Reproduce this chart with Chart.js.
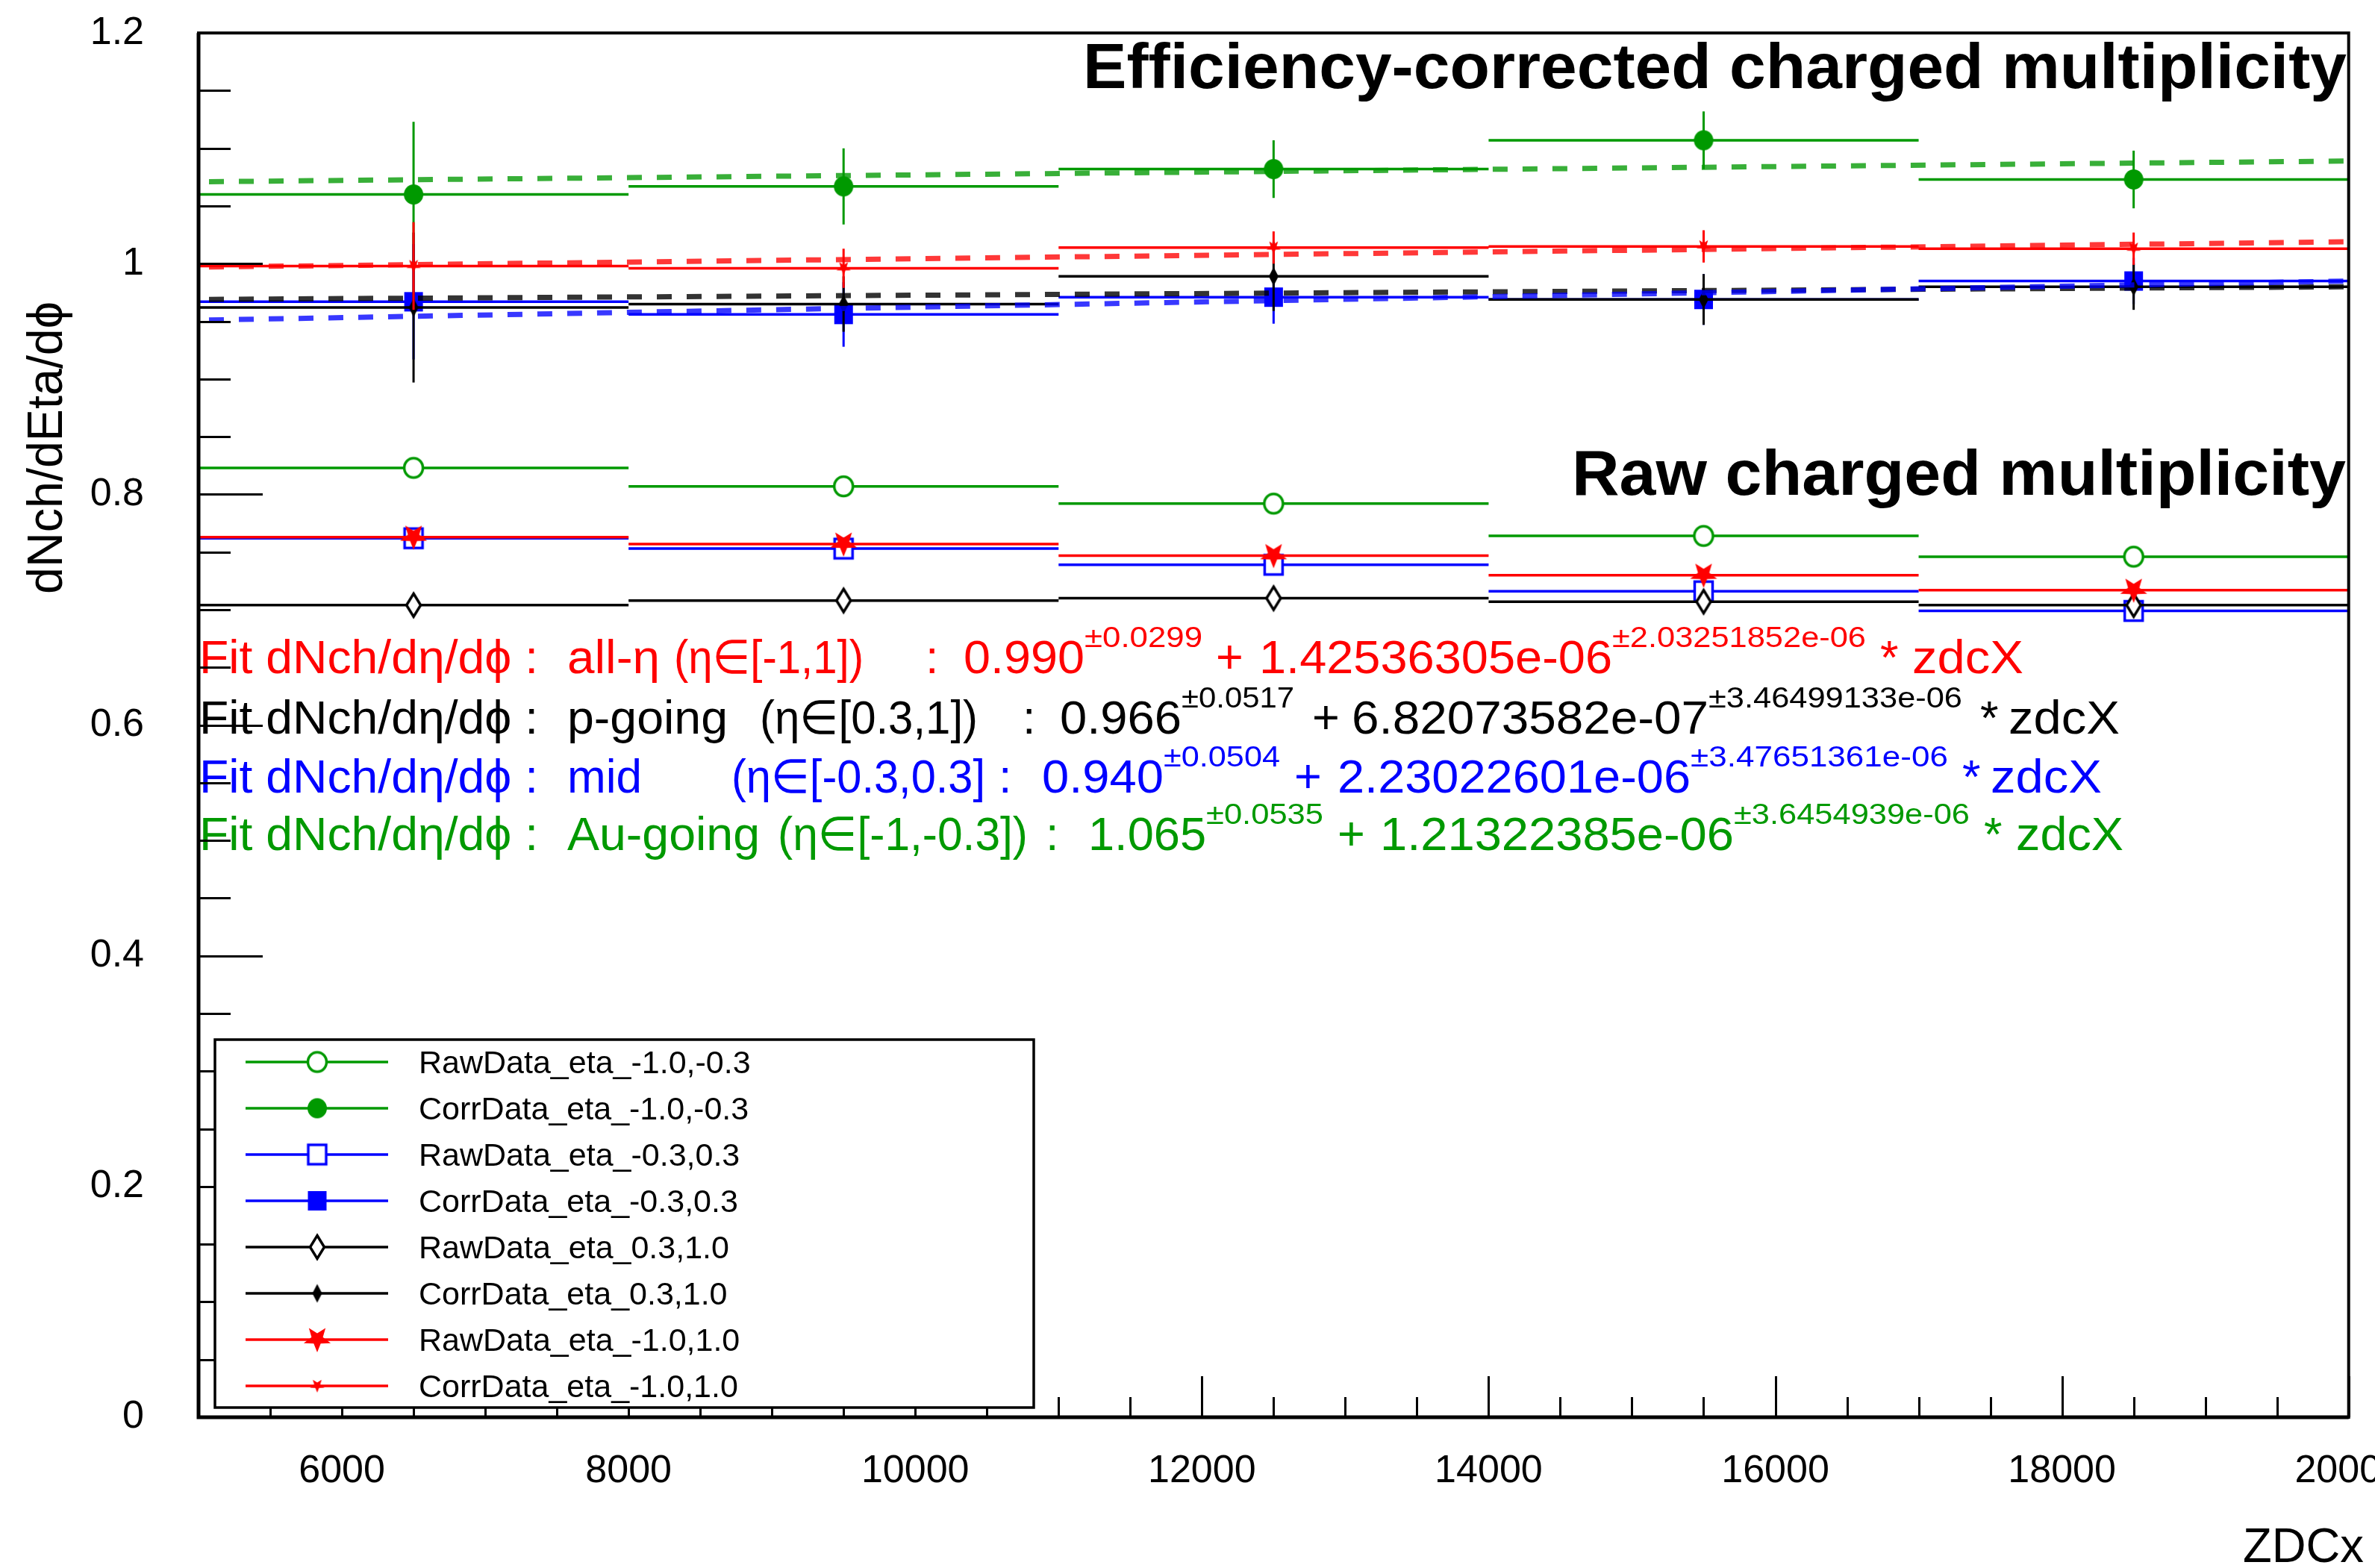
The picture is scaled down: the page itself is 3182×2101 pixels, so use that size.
<!DOCTYPE html>
<html><head><meta charset="utf-8">
<script src="https://cdn.jsdelivr.net/npm/chart.js@4.4.0/dist/chart.umd.min.js"></script>
<style>
html,body{margin:0;padding:0;background:#fff;overflow:hidden;width:3182px;height:2101px;}
#wrap{position:absolute;left:0;top:-60px;width:3260px;height:2161px;}
canvas{display:block;}
</style></head><body>
<div id="wrap"><canvas id="c" width="3260" height="2161" style="width:3260px;height:2161px"></canvas></div>
<script>
// ================= DATA =================
const binEdges   = [5000, 8000, 11000, 14000, 17000, 20000];
const binCenters = [6500, 9500, 12500, 15500, 18500];

const rawGreen = [0.823, 0.807, 0.792, 0.764, 0.746];
const rawBlue  = [0.762, 0.753, 0.739, 0.716, 0.699];
const rawBlack = [0.704, 0.708, 0.710, 0.707, 0.704];
const rawRed   = [0.763, 0.757, 0.747, 0.730, 0.717];

const corrGreen    = [1.060, 1.067, 1.082, 1.107, 1.073];
const corrGreenErr = [0.063, 0.033, 0.025, 0.025, 0.025];
const corrBlue     = [0.967, 0.956, 0.971, 0.969, 0.985];
const corrBlueErr  = [0.050, 0.028, 0.023, 0.022, 0.020];
const corrBlack    = [0.962, 0.965, 0.989, 0.969, 0.980];
const corrBlackErr = [0.065, 0.024, 0.030, 0.022, 0.020];
const corrRed      = [0.998, 0.996, 1.014, 1.015, 1.013];
const corrRedErr   = [0.038, 0.017, 0.014, 0.014, 0.014];

// fit lines: value at left (x=5000) and right (x=20000) edge
const fitX     = [5000, 20000];
const fitRed   = [0.997, 1.019];
const fitBlack = [0.969, 0.980];
const fitBlue  = [0.951, 0.985];
const fitGreen = [1.071, 1.089];

const seriesNames = ["RawData_eta_-1.0,-0.3","CorrData_eta_-1.0,-0.3","RawData_eta_-0.3,0.3","CorrData_eta_-0.3,0.3",
                     "RawData_eta_0.3,1.0","CorrData_eta_0.3,1.0","RawData_eta_-1.0,1.0","CorrData_eta_-1.0,1.0"];

const xTickValues = [6000, 8000, 10000, 12000, 14000, 16000, 18000, 20000];
const xTickLabels = ["6000","8000","10000","12000","14000","16000","18000","20000"];
const yTickValues = [0, 0.2, 0.4, 0.6, 0.8, 1.0, 1.2];
const yTickLabels = ["0","0.2","0.4","0.6","0.8","1","1.2"];

const fitPrefix = "Fit dNch/dη/dϕ :";
const fitRegion = ["all-η", "p-going", "mid", "Au-going"];
const fitRange  = ["(η∈[-1,1])", "(η∈[0.3,1])", "(η∈[-0.3,0.3]", "(η∈[-1,-0.3])"];
const fitP0     = ["0.990", "0.966", "0.940", "1.065"];
const fitP0Err  = ["±0.0299", "±0.0517", "±0.0504", "±0.0535"];
const fitP1     = ["1.42536305e-06", "6.82073582e-07", "2.23022601e-06", "1.21322385e-06"];
const fitP1Err  = ["±2.03251852e-06", "±3.46499133e-06", "±3.47651361e-06", "±3.6454939e-06"];

const titleCorr = "Efficiency-corrected charged multiplicity";
const titleRaw  = "Raw charged multiplicity";
const xTitle = "ZDCx";
const yTitle = "dNch/dEta/dϕ";

// ================= STYLE / LAYOUT =================
const GREEN = '#009900', BLUE = '#0000ff', BLACK = '#000000', RED = '#ff0000';
const FONT = '"Liberation Sans", Arial, Helvetica, "DejaVu Sans", sans-serif';
const OFF = 60; // canvas shifted up by this many px

function mk(kind, color, w, h, lw, open) {
  const pad = 4 + lw;
  const c = document.createElement('canvas');
  c.width = Math.ceil(w + 2 * pad); c.height = Math.ceil(h + 2 * pad);
  const g = c.getContext('2d');
  g.translate(c.width / 2, c.height / 2);
  g.lineWidth = lw; g.strokeStyle = color; g.fillStyle = color; g.lineJoin = 'miter';
  g.beginPath();
  if (kind === 'circle') g.ellipse(0, 0, w / 2, h / 2, 0, 0, 2 * Math.PI);
  else if (kind === 'square') g.rect(-w / 2, -h / 2, w, h);
  else if (kind === 'diamond') { g.moveTo(0, -h / 2); g.lineTo(w / 2, 0); g.lineTo(0, h / 2); g.lineTo(-w / 2, 0); g.closePath(); }
  else if (kind === 'star') {
    const R = h / 2, r = R * 0.42;
    for (let k = 0; k < 10; k++) {
      const a = Math.PI / 2 + k * Math.PI / 5;
      const rr = (k % 2 === 0) ? R : r;
      const px = rr * Math.cos(a), py = rr * Math.sin(a) * 0.95 - R * 0.05;
      if (k === 0) g.moveTo(px, py); else g.lineTo(px, py);
    }
    g.closePath();
  }
  if (open) { g.fillStyle = '#fff'; g.fill(); g.stroke(); } else { g.fill(); }
  return c;
}

const markers = {
  rawGreen:  mk('circle', GREEN, 25, 26, 3.5, true),
  corrGreen: mk('circle', GREEN, 26, 27, 0, false),
  rawBlue:   mk('square', BLUE, 24, 26, 3.5, true),
  corrBlue:  mk('square', BLUE, 25, 26, 0, false),
  rawBlack:  mk('diamond', BLACK, 19, 31, 3.5, true),
  corrBlack: mk('diamond', BLACK, 13, 25, 0, false),
  rawRed:    mk('star', RED, 36, 38, 0, false),
  corrRed:   mk('star', RED, 17, 20, 0, false)
};

function segData(vals) {
  const out = [];
  for (let i = 0; i < vals.length; i++) {
    out.push({x: binEdges[i], y: vals[i]});
    out.push({x: binEdges[i + 1], y: vals[i]});
    out.push({x: binEdges[i + 1], y: null});
  }
  return out;
}
function ptData(vals) { return vals.map((v, i) => ({x: binCenters[i], y: v})); }

const series = [
  {vals: rawGreen,  color: GREEN, marker: markers.rawGreen},
  {vals: corrGreen, color: GREEN, marker: markers.corrGreen, err: corrGreenErr},
  {vals: rawBlue,   color: BLUE,  marker: markers.rawBlue},
  {vals: corrBlue,  color: BLUE,  marker: markers.corrBlue, err: corrBlueErr},
  {vals: rawBlack,  color: BLACK, marker: markers.rawBlack},
  {vals: corrBlack, color: BLACK, marker: markers.corrBlack, err: corrBlackErr},
  {vals: rawRed,    color: RED,   marker: markers.rawRed},
  {vals: corrRed,   color: RED,   marker: markers.corrRed, err: corrRedErr}
];
const fits = [
  {vals: fitGreen, color: 'rgba(0,153,0,0.78)'},
  {vals: fitBlack, color: 'rgba(0,0,0,0.8)'},
  {vals: fitBlue,  color: 'rgba(0,0,255,0.78)'},
  {vals: fitRed,   color: 'rgba(255,0,0,0.78)'}
];

const drawSeq = [];
series.forEach(s => {
  drawSeq.push({type: 'line', data: segData(s.vals), borderColor: s.color, borderWidth: 3.5, pointRadius: 0,
                spanGaps: false, tension: 0, borderCapStyle: 'butt', fill: false});
  drawSeq.push({type: 'line', data: ptData(s.vals), showLine: false, pointStyle: s.marker, pointRadius: 12,
                borderColor: s.color, backgroundColor: s.color, errVals: s.err || null, errColor: s.color});
});
fits.forEach(f => {
  drawSeq.push({type: 'line', data: fitX.map((x, i) => ({x: x, y: f.vals[i]})), borderColor: f.color,
                borderWidth: 7, borderDash: [20, 20], borderDashOffset: 26, pointRadius: 0, fill: false,
                borderCapStyle: 'butt'});
});
drawSeq.forEach((d, i) => { d.order = drawSeq.length - i; });

// text layout (page px)
const fitLayout = [
  {color: RED,   base: 902,  region: [760, 884],  range: [903, 1157],  colon: 1240, p0: [1291, 1453], p0e: [1453, 1611], plus: 1629, p1: [1687, 2160], p1e: [2160, 2500], star: 2519, z: [2562, 2711]},
  {color: BLACK, base: 983,  region: [760, 975],  range: [1018, 1310], colon: 1370, p0: [1420, 1583], p0e: [1583, 1734], plus: 1758, p1: [1811, 2289], p1e: [2289, 2629], star: 2653, z: [2691, 2840]},
  {color: BLUE,  base: 1062, region: [760, 860],  range: [980, 1320],  colon: 1338, p0: [1396, 1559], p0e: [1559, 1715], plus: 1734, p1: [1792, 2265], p1e: [2265, 2610], star: 2629, z: [2667, 2816]},
  {color: GREEN, base: 1139, region: [760, 1018], range: [1042, 1377], colon: 1401, p0: [1458, 1616], p0e: [1616, 1773], plus: 1792, p1: [1849, 2323], p1e: [2323, 2639], star: 2658, z: [2701, 2845]}
];

function txt(ctx, s, x, y, font, color, w) {
  ctx.save();
  ctx.font = font; ctx.fillStyle = color; ctx.textBaseline = 'alphabetic'; ctx.textAlign = 'left';
  ctx.translate(x, y + OFF);
  if (w) { const m = ctx.measureText(s).width; ctx.scale(w / m, 1); }
  ctx.fillText(s, 0, 0);
  ctx.restore();
}

const errorBarPlugin = {
  id: 'errbars',
  beforeDatasetDraw(chart, args) {
    const ds = chart.data.datasets[args.index];
    if (!ds.errVals) return;
    const ctx = chart.ctx, xs = chart.scales.x, ys = chart.scales.y;
    ctx.save();
    ctx.strokeStyle = ds.errColor; ctx.lineWidth = 3;
    ds.data.forEach((p, i) => {
      const px = xs.getPixelForValue(p.x);
      ctx.beginPath();
      ctx.moveTo(px, ys.getPixelForValue(p.y - ds.errVals[i]));
      ctx.lineTo(px, ys.getPixelForValue(p.y + ds.errVals[i]));
      ctx.stroke();
    });
    ctx.restore();
  }
};

const textPlugin = {
  id: 'texts',
  afterDatasetsDraw(chart) {
    const ctx = chart.ctx;
    const F = '63px ' + FONT, S = '39px ' + FONT;
    fitLayout.forEach((L, i) => {
      const b = L.base, c = L.color;
      txt(ctx, fitPrefix, 267, b, F, c, 454);
      txt(ctx, fitRegion[i], L.region[0], b, F, c, L.region[1] - L.region[0]);
      txt(ctx, fitRange[i], L.range[0], b, F, c, L.range[1] - L.range[0]);
      txt(ctx, ':', L.colon, b, F, c);
      txt(ctx, fitP0[i], L.p0[0], b, F, c, L.p0[1] - L.p0[0]);
      txt(ctx, fitP0Err[i], L.p0e[0], b - 35, S, c, L.p0e[1] - L.p0e[0]);
      txt(ctx, '+', L.plus, b, F, c);
      txt(ctx, fitP1[i], L.p1[0], b, F, c, L.p1[1] - L.p1[0]);
      txt(ctx, fitP1Err[i], L.p1e[0], b - 35, S, c, L.p1e[1] - L.p1e[0]);
      txt(ctx, '*', L.star, b, F, c);
      txt(ctx, 'zdcX', L.z[0], b, F, c, L.z[1] - L.z[0]);
    });
    txt(ctx, titleCorr, 1451, 118, 'bold 86px ' + FONT, '#000', 1693);
    txt(ctx, titleRaw, 2106, 663, 'bold 86px ' + FONT, '#000', 1037);
  },
  afterDraw(chart) {
    const ctx = chart.ctx, a = chart.chartArea, xs = chart.scales.x, ys = chart.scales.y;
    // axis titles
    txt(ctx, xTitle, 3005, 2093, '64px ' + FONT, '#000', 162);
    ctx.save();
    ctx.font = '66px ' + FONT; ctx.fillStyle = '#000'; ctx.textBaseline = 'alphabetic';
    const m = ctx.measureText(yTitle).width;
    ctx.translate(83, 796 + OFF); ctx.rotate(-Math.PI / 2); ctx.scale(392 / m, 1);
    ctx.fillText(yTitle, 0, 0);
    ctx.restore();
    // inner ticks
    ctx.save();
    ctx.strokeStyle = '#000'; ctx.lineWidth = 3;
    for (let k = 0; k <= 24; k++) {
      const v = k * 0.05, py = Math.round(ys.getPixelForValue(v)) + 0.5;
      const len = (k % 4 === 0) ? 86 : 43;
      ctx.beginPath(); ctx.moveTo(a.left, py); ctx.lineTo(a.left + len, py); ctx.stroke();
    }
    for (let v = 5000; v <= 20000; v += 500) {
      const px = Math.round(xs.getPixelForValue(v)) + 0.5;
      const len = (v % 2000 === 0) ? 55 : 27;
      ctx.beginPath(); ctx.moveTo(px, a.bottom); ctx.lineTo(px, a.bottom - len); ctx.stroke();
    }
    // frame
    ctx.lineWidth = 4;
    ctx.strokeRect(a.left, a.top, a.right - a.left, a.bottom - a.top);
    ctx.lineWidth = 5;
    ctx.beginPath(); ctx.moveTo(a.left, a.top); ctx.lineTo(a.left, a.bottom); ctx.lineTo(a.right, a.bottom); ctx.stroke();
    ctx.restore();
    // legend
    const L = {x0: 288, y0: 1393, x1: 1385, y1: 1886};
    ctx.save();
    ctx.fillStyle = '#fff';
    ctx.fillRect(L.x0, L.y0 + OFF, L.x1 - L.x0, L.y1 - L.y0);
    ctx.strokeStyle = '#000'; ctx.lineWidth = 3.5;
    ctx.strokeRect(L.x0, L.y0 + OFF, L.x1 - L.x0, L.y1 - L.y0);
    series.forEach((s, i) => {
      const cy = 1423 + i * 62 + OFF;
      ctx.strokeStyle = s.color; ctx.lineWidth = 3.5;
      ctx.beginPath(); ctx.moveTo(329, cy); ctx.lineTo(520, cy); ctx.stroke();
      const mc = s.marker;
      ctx.drawImage(mc, 425 - mc.width / 2, cy - mc.height / 2);
    });
    ctx.restore();
    series.forEach((s, i) => {
      const cy = 1423 + i * 62;
      txt(ctx, seriesNames[i], 561, cy + 15, '43px ' + FONT, '#000');
    });
  }
};

new Chart(document.getElementById('c'), {
  type: 'line',
  data: {datasets: drawSeq},
  plugins: [errorBarPlugin, textPlugin],
  options: {
    responsive: false, animation: false, devicePixelRatio: 1,
    layout: {padding: {left: 0, right: 83, top: 18 + OFF, bottom: 0}},
    plugins: {legend: {display: false}, tooltip: {enabled: false}},
    elements: {line: {tension: 0}},
    scales: {
      x: {
        type: 'linear', min: binEdges[0], max: binEdges[binEdges.length - 1],
        grid: {display: false, drawTicks: false}, border: {display: false},
        afterBuildTicks: s => { s.ticks = xTickValues.map(v => ({value: v})); },
        afterFit: s => { s.height = 202; },
        ticks: {font: {family: FONT, size: 52}, color: '#000', padding: 41, maxRotation: 0, autoSkip: false,
                callback: v => { const i = xTickValues.indexOf(v); return i >= 0 ? xTickLabels[i] : ''; }}
      },
      y: {
        type: 'linear', min: 0, max: 1.2,
        grid: {display: false, drawTicks: false}, border: {display: false},
        afterBuildTicks: s => { s.ticks = yTickValues.map(v => ({value: v})); },
        afterFit: s => { s.width = 266; },
        ticks: {font: {family: FONT, size: 52}, color: '#000', padding: 73, autoSkip: false,
                callback: v => { const i = yTickValues.findIndex(t => Math.abs(t - v) < 1e-9); return i >= 0 ? yTickLabels[i] : ''; }}
      }
    }
  }
});
</script>
</body></html>
